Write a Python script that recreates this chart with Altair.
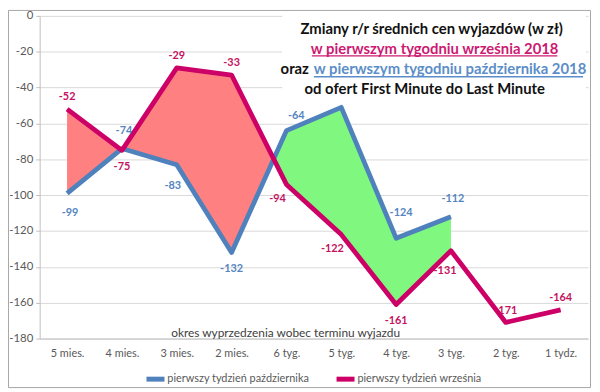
import json
import altair as alt
import pandas as pd

# ---------------- data ----------------
categories = ["5 mies.", "4 mies.", "3 mies.", "2 mies.", "6 tyg.", "5 tyg.",
              "4 tyg.", "3 tyg.", "2 tyg.", "1 tydz."]
pazdziernik = [-99, -74, -83, -132, -64, -51, -124, -112, None, None]
wrzesien = [-52, -75, -29, -33, -94, -122, -161, -131, -171, -164]
series_names = ["pierwszy tydzień października", "pierwszy tydzień września"]
paz_label_pos = ["belowfar", "higher", "belowfarleft", "below", "aboveright", None,
                 "highest", "higher", None, None]
wrz_label_pos = ["above", "below", "above", "above", "belowleft", "belowleft",
                 "below", "lowleft", "above", "above"]
y_ticks = list(range(-180, 1, 20))
title_lines = ["Zmiany r/r średnich cen wyjazdów (w zł)",
               "w pierwszym tygodniu września 2018",
               "oraz",
               "w pierwszym tygodniu października 2018",
               "od ofert First Minute do Last Minute"]
x_title = "okres wyprzedzenia wobec terminu wyjazdu"

# ---------------- styles ----------------
BLUE = "#4f81bd"
MAGENTA = "#cc0066"
BLUE_TXT = "#5585c0"
MAG_TXT = "#c4125f"
RED_FILL = "#ff8080"
GREEN_FILL = "#80f880"
FONT = "Lato"
offsets = {"above": (0, -12), "higher": (2, -18), "highest": (5, -25),
           "below": (0, 17), "belowfar": (3, 20), "belowfarleft": (-4, 22),
           "belowleft": (-9, 15), "lowleft": (-6, 21), "aboveright": (10, -15)}

# ---------------- tables ----------------
rows = []
for i, c in enumerate(categories):
    if pazdziernik[i] is not None:
        rows.append({"idx": i, "value": pazdziernik[i], "series": series_names[0],
                     "label": str(pazdziernik[i]), "pos": paz_label_pos[i]})
    if wrzesien[i] is not None:
        rows.append({"idx": i, "value": wrzesien[i], "series": series_names[1],
                     "label": str(wrzesien[i]), "pos": wrz_label_pos[i]})
df = pd.DataFrame(rows)

# fill between the two series, split at crossings
n = sum(1 for v in pazdziernik if v is not None)
pts = []
piece = 0
for i in range(n):
    pts.append({"x": i, "w": wrzesien[i], "p": pazdziernik[i], "piece": piece})
    if i < n - 1:
        d0 = wrzesien[i] - pazdziernik[i]
        d1 = wrzesien[i + 1] - pazdziernik[i + 1]
        if d0 * d1 < 0:
            t = d0 / (d0 - d1)
            xc = i + t
            yc = wrzesien[i] + t * (wrzesien[i + 1] - wrzesien[i])
            pts.append({"x": xc, "w": yc, "p": yc, "piece": piece})
            piece += 1
            pts.append({"x": xc, "w": yc, "p": yc, "piece": piece})
fill_df = pd.DataFrame(pts)
sign = fill_df.assign(d=fill_df.w - fill_df.p).groupby("piece")["d"].sum()
fill_df["kind"] = fill_df["piece"].map(lambda k: "red" if sign[k] > 0 else "green")

x_scale = alt.Scale(domain=[-0.5, len(categories) - 0.5], nice=False, zero=False)
y_scale = alt.Scale(domain=[-180, 0], nice=False, zero=False)
label_expr = json.dumps(categories) + "[datum.value]"

x_axis = alt.Axis(values=list(range(len(categories))), labelExpr=label_expr,
                  grid=False, ticks=False, domain=True, domainColor="#bfbfbf",
                  labelPadding=9, labelFontSize=11, labelColor="#595959",
                  labelOverlap=False,
                  title=x_title, titleX=248, titleY=-6, titleAlign="center",
                  titleBaseline="middle", titleFontSize=12,
                  titleFontWeight="normal", titleColor="#404040")
y_axis = alt.Axis(values=y_ticks, labelExpr="'' + datum.value", grid=True,
                  gridColor="#d9d9d9", domainColor="#bfbfbf", tickColor="#bfbfbf",
                  tickSize=4, labelPadding=3, labelFontSize=11.5, labelColor="#595959",
                  labelOverlap=False, labelBound=False, title=None)

def X(field):
    return alt.X(field, scale=x_scale, axis=x_axis)

def Y(field):
    return alt.Y(field, scale=y_scale, axis=y_axis)

base = alt.Chart(df)
dummy = pd.DataFrame({"a": [0]})

white_box = alt.Chart(dummy).mark_rect(color="white").encode(
    x=alt.value(245), x2=alt.value(552), y=alt.value(-1), y2=alt.value(95))

areas = []
for kind, colr in [("red", RED_FILL), ("green", GREEN_FILL)]:
    areas.append(
        alt.Chart(fill_df[fill_df.kind == kind]).mark_area(color=colr, opacity=1, line=False).encode(
            x=X("x:Q"),
            y=Y("w:Q"),
            y2="p:Q",
            detail="piece:N",
        )
    )

lines = base.transform_calculate(x="datum.idx").mark_line(strokeWidth=4.8, strokeJoin="round").encode(
    x=X("x:Q"),
    y=Y("value:Q"),
    color=alt.Color("series:N",
                    scale=alt.Scale(domain=series_names, range=[BLUE, MAGENTA]),
                    sort=series_names,
                    legend=alt.Legend(orient="none", legendX=105, legendY=355,
                                      direction="horizontal", title=None,
                                      symbolType="stroke", symbolStrokeWidth=5,
                                      symbolSize=330, labelOffset=0, columnPadding=16,
                                      labelFontSize=11, labelColor="#595959",
                                      labelFont=FONT, padding=0)),
    order="idx:Q",
)

labels = []
for sname, colr in [(series_names[0], BLUE_TXT), (series_names[1], MAG_TXT)]:
    for pos, (dx, dy) in offsets.items():
        labels.append(
            base.transform_filter(
                (alt.datum.series == sname) & (alt.datum.pos == pos)
            ).transform_calculate(x="datum.idx").mark_text(
                dx=dx, dy=dy, font=FONT, fontSize=11, fontWeight="bold", color=colr,
                baseline="middle", align="center"
            ).encode(
                x=X("x:Q"),
                y=Y("value:Q"),
                text="label:N",
            )
        )

def txt(s, x, y, colr, align="center"):
    return alt.Chart(dummy).mark_text(
        text=s, font=FONT, fontSize=15, fontWeight="bold", color=colr,
        align=align, baseline="middle").encode(x=alt.value(x), y=alt.value(y))

def uline(x1, x2, y, colr):
    return alt.Chart(dummy).mark_rule(color=colr, strokeWidth=1.3).encode(
        x=alt.value(x1), x2=alt.value(x2), y=alt.value(y))

titles = [
    txt(title_lines[0], 396, 13, "#111111"),
    txt(title_lines[1], 399, 33, "#cc1a72"),
    uline(275, 523, 40.5, "#cc1a72"),
    txt(title_lines[2], 272, 54, "#111111", align="right"),
    txt(title_lines[3], 277, 54, "#5b8ec8", align="left"),
    uline(277, 549, 61.5, "#5b8ec8"),
    txt(title_lines[4], 389, 74, "#111111"),
]

border = alt.Chart(dummy).mark_rect(fillOpacity=0, stroke="#a6a6a6", strokeWidth=1).encode(
    x=alt.value(-31.5), x2=alt.value(556.5), y=alt.value(-5.5), y2=alt.value(375.5))

chart = alt.layer(
    *areas, white_box, lines, *labels, *titles, border
).properties(
    width=554, height=326,
    padding={"left": 32, "top": 6, "right": 4, "bottom": 51},
    autosize=alt.AutoSizeParams(type="none"),
).configure_view(stroke=None).configure_axis(
    labelFont=FONT, titleFont=FONT
).configure_axisY(
    labelOverlap=False, labelBound=False
).configure_legend(labelFont=FONT)

chart.save("out.html", embed_options={"renderer": "svg", "actions": False})
